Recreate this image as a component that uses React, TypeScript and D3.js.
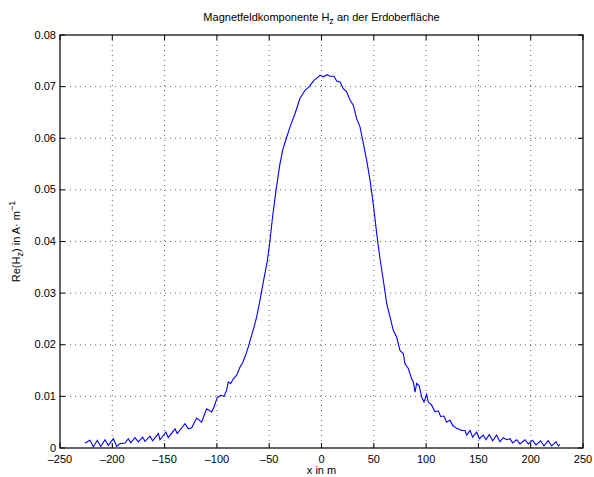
import React from "react";
import * as d3 from "d3";

const xTicks = [-250, -200, -150, -100, -50, 0, 50, 100, 150, 200, 250];
const yTicks = [0, 0.01, 0.02, 0.03, 0.04, 0.05, 0.06, 0.07, 0.08];
const yTickLabels = ["0", "0.01", "0.02", "0.03", "0.04", "0.05", "0.06", "0.07", "0.08"];

const xs = [
  -226.1, -221.3, -218.1, -214.3, -211.1, -207.0, -203.8, -199.0, -195.8, -192.6,
  -187.9, -184.7, -182.4, -178.3, -175.1, -171.0, -168.7, -164.0, -161.4, -156.0,
  -154.4, -148.7, -146.5, -140.0, -137.9, -130.5, -127.3, -124.1, -119.3, -114.6,
  -109.8, -105.0, -102.8, -99.6, -96.4, -93.2, -90.7, -89.1, -86.8, -84.3,
  -81.1, -77.9, -75.4, -72.5, -70.0, -66.8, -64.5, -62.0, -58.8, -55.3,
  -51.8, -49.2, -46.7, -43.5, -39.7, -37.1, -33.3, -30.1, -25.3, -20.6,
  -15.8, -11.7, -7.2, -3.1, -1.4, 1.7, 5.5, 8.1, 11.9, 14.5,
  17.7, 20.9, 24.0, 27.2, 30.4, 33.6, 36.8, 40.0, 43.2, 46.4,
  49.5, 52.8, 55.9, 59.1, 62.3, 65.5, 68.6, 71.8, 75.0, 78.2,
  79.8, 83.0, 86.2, 87.8, 89.4, 91.0, 93.5, 95.7, 98.0, 100.5,
  102.1, 105.3, 108.5, 111.7, 113.9, 117.1, 119.6, 122.8, 125.4, 129.2,
  134.0, 137.2, 138.8, 142.0, 144.5, 148.3, 150.9, 154.7, 157.2, 160.4,
  163.6, 167.4, 170.6, 173.8, 177.0, 180.2, 182.7, 186.6, 189.7, 194.5,
  197.7, 201.8, 205.0, 209.5, 212.7, 216.8, 220.0, 224.2, 226.4, 228.0,
];

const ys = [
  0.00097, 0.0015, 0.0002, 0.0015, 0.0003, 0.0016, 0.0005, 0.0018, 0.0003, 0.00085,
  0.00097, 0.0018, 0.001, 0.002, 0.0012, 0.0021, 0.0013, 0.0023, 0.0014, 0.0028,
  0.0016, 0.0031, 0.002, 0.0037, 0.0028, 0.0047, 0.0037, 0.0039, 0.0058, 0.005,
  0.0076, 0.007, 0.0079, 0.0098, 0.0102, 0.01, 0.0112, 0.0128, 0.0125, 0.0134,
  0.0141, 0.0157, 0.0165, 0.018, 0.0196, 0.0218, 0.0234, 0.0254, 0.0286, 0.0325,
  0.0362, 0.0403, 0.0449, 0.0499, 0.0551, 0.0577, 0.0602, 0.0622, 0.0648, 0.0677,
  0.0693, 0.07, 0.0712, 0.0719, 0.0722, 0.0719, 0.0723, 0.072, 0.072, 0.0711,
  0.0709, 0.0696, 0.069, 0.0674, 0.0664, 0.0638, 0.0622, 0.059, 0.0557, 0.0519,
  0.0473, 0.0415, 0.0367, 0.0325, 0.028, 0.0254, 0.0228, 0.0215, 0.0189, 0.0183,
  0.0163, 0.0154, 0.0134, 0.0128, 0.0108, 0.0125, 0.012, 0.0099, 0.0089, 0.0104,
  0.0089, 0.0083, 0.007, 0.0072, 0.0061, 0.0062, 0.005, 0.0054, 0.0044, 0.0038,
  0.0034, 0.0034, 0.0025, 0.0034, 0.0021, 0.0031, 0.0018, 0.0025, 0.0016, 0.0026,
  0.0014, 0.0025, 0.0012, 0.002, 0.0016, 0.0018, 0.001, 0.0016, 0.0008, 0.0016,
  0.0008, 0.0015, 0.0006, 0.0014, 0.0004, 0.0014, 0.0004, 0.0012, 0.0004, 0.0007,
];

const W = 594;
const H = 477;
const left = 60;
const right = 583;
const top = 35;
const bottom = 448;
const font = "'Liberation Sans', Arial, Helvetica, sans-serif";

export default function App() {
  const x = d3.scaleLinear().domain([-250, 250]).range([left, right]);
  const y = d3.scaleLinear().domain([0, 0.08]).range([bottom, top]);
  const pts: [number, number][] = xs.map((v, i) => [v, ys[i]]);
  const line = d3
    .line<[number, number]>()
    .x((d) => x(d[0]))
    .y((d) => y(d[1]));
  const tl = 5;
  return (
    <svg
      width={W}
      height={H}
      style={{ position: "absolute", left: 0, top: 0, background: "#fff" }}
      fontFamily={font}
    >
      <rect x={0} y={0} width={W} height={H} fill="#fff" />
      {xTicks.slice(1, -1).map((t) => (
        <line
          key={"gx" + t}
          x1={x(t)}
          x2={x(t)}
          y1={top}
          y2={bottom}
          stroke="#666"
          strokeWidth={1}
          strokeDasharray="1,4"
        />
      ))}
      {yTicks.slice(1, -1).map((t) => (
        <line
          key={"gy" + t}
          x1={left}
          x2={right}
          y1={y(t)}
          y2={y(t)}
          stroke="#666"
          strokeWidth={1}
          strokeDasharray="1,4"
        />
      ))}
      <path d={line(pts) || ""} fill="none" stroke="#0000ff" strokeWidth={1.1} />
      <rect
        x={left}
        y={top}
        width={right - left}
        height={bottom - top}
        fill="none"
        stroke="#000"
        strokeWidth={1.2}
      />
      {xTicks.map((t) => (
        <g key={"tx" + t}>
          <line x1={x(t)} x2={x(t)} y1={bottom} y2={bottom - tl} stroke="#000" />
          <line x1={x(t)} x2={x(t)} y1={top} y2={top + tl} stroke="#000" />
          <text
            x={x(t)}
            y={bottom + 15}
            fontSize={11}
            textAnchor="middle"
            fill="#000"
          >
            {t < 0 ? "\u2013" + Math.abs(t) : String(t)}
          </text>
        </g>
      ))}
      {yTicks.map((t, i) => (
        <g key={"ty" + t}>
          <line x1={left} x2={left + tl} y1={y(t)} y2={y(t)} stroke="#000" />
          <line x1={right} x2={right - tl} y1={y(t)} y2={y(t)} stroke="#000" />
          <text
            x={left - 4}
            y={y(t) + 3.5}
            fontSize={11}
            textAnchor="end"
            fill="#000"
          >
            {yTickLabels[i]}
          </text>
        </g>
      ))}
      <text x={(left + right) / 2} y={21} fontSize={11} textAnchor="middle" fill="#000">
        Magnetfeldkomponente H
        <tspan fontSize={9} dy={3}>z</tspan>
        <tspan dy={-3}> an der Erdoberfläche</tspan>
      </text>
      <text x={(left + right) / 2} y={474} fontSize={11} textAnchor="middle" fill="#000">
        x in m
      </text>
      <text
        transform={`translate(20, ${(top + bottom) / 2}) rotate(-90)`}
        fontSize={11}
        textAnchor="middle"
        fill="#000"
      >
        Re(H
        <tspan fontSize={9} dy={3}>z</tspan>
        <tspan dy={-3}>) in A· m</tspan>
        <tspan fontSize={9} dy={-5}>−1</tspan>
      </text>
    </svg>
  );
}
